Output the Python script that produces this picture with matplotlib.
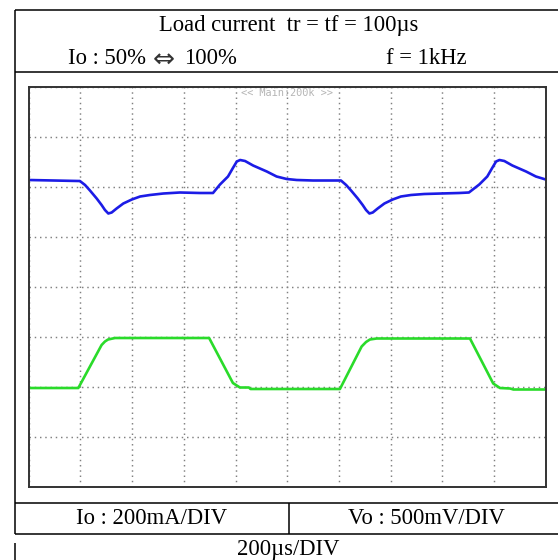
import numpy as np
import matplotlib
matplotlib.use("Agg")
import matplotlib.pyplot as plt

# time axis in microseconds (200us/DIV, 10 DIV), levels in divisions from bottom
vo_t = [0, 192, 198, 218, 237, 263, 282, 295, 308, 321, 340, 366, 399, 431, 469,
        521, 585, 663, 713, 740, 771, 790, 805, 818, 837, 868, 921, 959, 998,
        1037, 1100, 1190,
        1208, 1228, 1247, 1273, 1292, 1305, 1318, 1331, 1350, 1376, 1408, 1440,
        1479, 1530, 1595, 1665, 1703, 1743, 1774, 1793, 1808, 1821, 1840, 1871,
        1924, 1962, 2000]
vo_div = [6.14, 6.12, 6.12, 6.04, 5.93, 5.77, 5.64, 5.54, 5.47, 5.49, 5.57, 5.67,
          5.75, 5.81, 5.84, 5.87, 5.89, 5.88, 5.88, 6.05, 6.21, 6.38, 6.51, 6.54,
          6.52, 6.43, 6.31, 6.21, 6.16, 6.14, 6.13, 6.13,
          6.13, 6.04, 5.93, 5.77, 5.64, 5.54, 5.47, 5.49, 5.57, 5.67, 5.75, 5.81,
          5.84, 5.86, 5.87, 5.88, 5.89, 6.05, 6.21, 6.38, 6.51, 6.54, 6.52, 6.43,
          6.31, 6.21, 6.15]

io_t = [0, 192, 282, 295, 307, 334, 698, 790, 817, 852, 858, 1204, 1288, 1305,
        1320, 1346, 1707, 1797, 1823, 1862, 1875, 2000]
io_div = [1.98, 1.98, 2.84, 2.91, 2.95, 2.98, 2.98, 2.08, 1.99, 1.99, 1.96, 1.96,
          2.81, 2.90, 2.95, 2.97, 2.97, 2.07, 1.98, 1.97, 1.95, 1.95]

titulo = "Load current  tr = tf = 100\u00b5s"
linea_io = ["Io : 50%", "\u21d4", "100%"]
linea_f = "f = 1kHz"
escala_io = "Io : 200mA/DIV"
escala_vo = "Vo : 500mV/DIV"
escala_t = "200\u00b5s/DIV"
marca = "<< Main:200k >>"

serif = ["Liberation Serif", "DejaVu Serif"]

fig = plt.figure(figsize=(5.58, 5.60), dpi=100)

# overlay in pixel coordinates for the table frame and labels
ov = fig.add_axes([0, 0, 1, 1], zorder=0)
ov.set_xlim(0, 558)
ov.set_ylim(560, 0)
ov.axis("off")
lk = dict(color="black", lw=1.1, solid_capstyle="butt")
ov.plot([15, 558], [10, 10], **lk)
ov.plot([15, 558], [72, 72], **lk)
ov.plot([15, 558], [503, 503], **lk)
ov.plot([15, 558], [533.5, 533.5], **lk)
ov.plot([15, 15], [10, 534], **lk)
ov.plot([15, 15], [543, 560], **lk)
ov.plot([289, 289], [503, 533.5], **lk)

tk = dict(family=serif, fontsize=16.3, ha="center", va="center", color="black")
ov.text(289, 26, titulo, **tk)
ov.text(106.5, 59, linea_io[0], **tk)
ov.text(163.5, 59.5, linea_io[1], family="DejaVu Sans", fontsize=19,
        ha="center", va="center", color="#333333")
ov.text(210, 59, linea_io[2], **tk)
ov.text(426, 59, linea_f, **tk)
ov.text(152, 518, escala_io, **tk)
ov.text(426, 518, escala_vo, **tk)
ov.text(288, 549, escala_t, **tk)

# scope screen
ax = fig.add_axes([28.7 / 558, 1 - 487 / 560, 517 / 558, 400 / 560], zorder=1)
ax.plot(vo_t, vo_div, color="#1c1ce6", lw=1.9, solid_joinstyle="round",
        solid_capstyle="round")
ax.plot(io_t, io_div, color="#2adb2a", lw=1.9, solid_joinstyle="round",
        solid_capstyle="round")
ax.set_xlim(0, 2000)
ax.set_ylim(0, 8)
ax.set_xticks(np.arange(0, 2001, 200))
ax.set_yticks(np.arange(0, 9, 1))
ax.tick_params(length=0, labelbottom=False, labelleft=False)
ax.grid(True, color="#808080", linestyle=(0, (1, 2.6)), linewidth=1.05)
ax.set_axisbelow(True)
for s in ax.spines.values():
    s.set_color("#333333")
    s.set_linewidth(1.4)
ax.text(0.5, 0.985, marca, transform=ax.transAxes, ha="center", va="center",
        family="DejaVu Sans Mono", fontsize=7.4, color="#b5b5b5")

fig.savefig("out.png", dpi=100)
